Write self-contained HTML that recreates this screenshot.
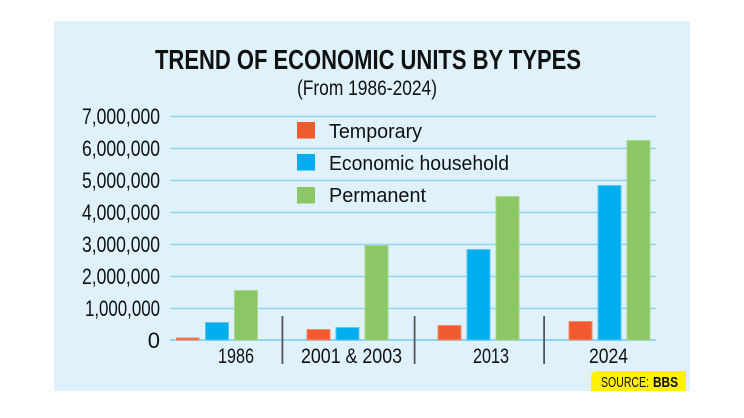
<!DOCTYPE html>
<html><head><meta charset="utf-8"><style>
html,body{margin:0;padding:0;background:#fff;}
svg{display:block;}
text{font-family:"Liberation Sans",sans-serif;fill:#111;}
</style></head><body>
<svg width="744" height="418" viewBox="0 0 744 418" xmlns="http://www.w3.org/2000/svg">
<rect x="0" y="0" width="744" height="418" fill="#ffffff"/>
<rect x="54" y="21" width="636" height="370" fill="#dff1fb"/>
<text x="155" y="69" font-size="28" font-weight="bold" textLength="426" lengthAdjust="spacingAndGlyphs" fill="#0a0a0a">TREND OF ECONOMIC UNITS BY TYPES</text>
<text x="297" y="95" font-size="21" textLength="140" lengthAdjust="spacingAndGlyphs">(From 1986-2024)</text>
<g stroke="#8fd6f6" stroke-width="1.6">
<line x1="170" y1="116.5" x2="656" y2="116.5"/>
<line x1="170" y1="148.5" x2="656" y2="148.5"/>
<line x1="170" y1="180.5" x2="656" y2="180.5"/>
<line x1="170" y1="212.5" x2="656" y2="212.5"/>
<line x1="170" y1="244.5" x2="656" y2="244.5"/>
<line x1="170" y1="276.5" x2="656" y2="276.5"/>
<line x1="170" y1="308.5" x2="656" y2="308.5"/>
<line x1="170" y1="340" x2="656" y2="340" stroke-width="2"/>
</g>
<g font-size="22" text-anchor="end">
<text x="160" y="124" textLength="78" lengthAdjust="spacingAndGlyphs">7,000,000</text>
<text x="160" y="156" textLength="78" lengthAdjust="spacingAndGlyphs">6,000,000</text>
<text x="160" y="188" textLength="78" lengthAdjust="spacingAndGlyphs">5,000,000</text>
<text x="160" y="220" textLength="78" lengthAdjust="spacingAndGlyphs">4,000,000</text>
<text x="160" y="252" textLength="78" lengthAdjust="spacingAndGlyphs">3,000,000</text>
<text x="160" y="284" textLength="78" lengthAdjust="spacingAndGlyphs">2,000,000</text>
<text x="160" y="316" textLength="75" lengthAdjust="spacingAndGlyphs">1,000,000</text>
<text x="160" y="348">0</text>
</g>
<g stroke-width="1">
<rect x="176.5" y="338" width="22.5" height="2" fill="#f15a2f" stroke="#f58a6a"/>
<rect x="205.5" y="322.5" width="23" height="17.5" fill="#00adee" stroke="#5cc8f2"/>
<rect x="234.5" y="290.5" width="23" height="49.5" fill="#8bc764" stroke="#a9d78b"/>
<rect x="307" y="329.5" width="23" height="10.5" fill="#f15a2f" stroke="#f58a6a"/>
<rect x="336" y="327.5" width="23" height="12.5" fill="#00adee" stroke="#5cc8f2"/>
<rect x="365" y="245.5" width="23" height="94.5" fill="#8bc764" stroke="#a9d78b"/>
<rect x="438" y="325.5" width="23" height="14.5" fill="#f15a2f" stroke="#f58a6a"/>
<rect x="467" y="249.5" width="23" height="90.5" fill="#00adee" stroke="#5cc8f2"/>
<rect x="496" y="196.5" width="23" height="143.5" fill="#8bc764" stroke="#a9d78b"/>
<rect x="569" y="321.5" width="23" height="18.5" fill="#f15a2f" stroke="#f58a6a"/>
<rect x="598" y="185.5" width="23" height="154.5" fill="#00adee" stroke="#5cc8f2"/>
<rect x="627" y="140.5" width="23" height="199.5" fill="#8bc764" stroke="#a9d78b"/>
</g>
<g fill="#555">
<rect x="281.5" y="316" width="1.8" height="48"/>
<rect x="413.7" y="316" width="1.8" height="48"/>
<rect x="543.2" y="316" width="1.8" height="48"/>
</g>
<g font-size="21" text-anchor="middle">
<text x="236" y="363" textLength="36" lengthAdjust="spacingAndGlyphs">1986</text>
<text x="351.5" y="363" textLength="101" lengthAdjust="spacingAndGlyphs">2001 &amp; 2003</text>
<text x="491" y="363" textLength="36" lengthAdjust="spacingAndGlyphs">2013</text>
<text x="608.5" y="363" textLength="39" lengthAdjust="spacingAndGlyphs">2024</text>
</g>
<rect x="297" y="122" width="18" height="16.5" fill="#f15a2f"/>
<rect x="297" y="154" width="18" height="16.5" fill="#00adee"/>
<rect x="297" y="187" width="18" height="16.5" fill="#8bc764"/>
<g font-size="20">
<text x="329" y="138" textLength="93" lengthAdjust="spacingAndGlyphs">Temporary</text>
<text x="329" y="170" textLength="180" lengthAdjust="spacingAndGlyphs">Economic household</text>
<text x="329" y="202" textLength="97" lengthAdjust="spacingAndGlyphs">Permanent</text>
</g>
<path d="M591 391 L591 377 Q591 371 597 371 L686 371 L686 391 Z" fill="#fff200"/>
<text x="601" y="387" font-size="15" textLength="48" lengthAdjust="spacingAndGlyphs">SOURCE:</text>
<text x="653" y="387" font-size="15" font-weight="bold" textLength="25" lengthAdjust="spacingAndGlyphs">BBS</text>
</svg>
</body></html>
